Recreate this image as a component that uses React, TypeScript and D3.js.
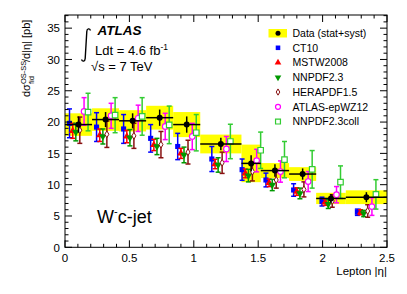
import React from "react";
import * as d3 from "d3";

// bin edges of lepton |eta| and measured W- c-jet cross sections
const binEdges = [0, 0.21, 0.42, 0.63, 0.84, 1.05, 1.37, 1.52, 1.74, 1.95, 2.18, 2.5];
const dataVal = [19.6, 20.4, 20.2, 20.7, 19.6, 16.5, 13.4, 12.25, 11.7, 7.8, 8.0];
const dataStat = [1.3, 1.2, 1.2, 1.3, 1.3, 1.0, 1.3, 1.0, 0.9, 0.7, 0.8];
const dataTot = [1.8, 1.8, 1.7, 1.9, 2.0, 1.5, 3.0, 1.2, 1.1, 0.9, 1.1];

// predictions
const ct10 = [19.8, 19.2, 18.9, 17.4, 16.1, 14.1, 12.4, 10.75, 9.15, 7.3, 5.6];
const ct10Err = [2.3, 2.3, 2.3, 2.2, 2.1, 2.0, 1.7, 1.1, 1.0, 0.7, 0.5];
const mstw = [18.6, 17.9, 17.7, 16.35, 15.0, 13.3, 11.8, 10.3, 8.9, 7.2, 5.6];
const mstwErr = [1.2, 1.0, 1.0, 0.9, 0.8, 0.75, 0.7, 0.6, 0.6, 0.5, 0.4];
const nnpdf = [18.4, 17.7, 17.5, 16.1, 14.75, 13.15, 11.45, 9.95, 8.6, 6.9, 5.4];
const nnpdfErr = [1.4, 1.2, 1.3, 1.3, 1.25, 1.15, 1.0, 0.9, 0.85, 0.7, 0.5];
const hera = [18.7, 18.05, 17.8, 16.4, 15.2, 13.5, 12.1, 10.75, 9.25, 7.4, 5.8];
const heraErr = [2.1, 2.1, 2.0, 2.1, 1.9, 1.7, 1.5, 1.3, 1.2, 1.0, 1.0];
const epwz = [21.7, 21.0, 20.6, 19.3, 17.7, 15.7, 13.85, 12.1, 10.5, 8.4, 6.5];
const epwzErr = [2.2, 2.0, 2.1, 2.1, 2.1, 2.0, 1.8, 1.7, 1.6, 1.3, 1.4];
const coll = [21.6, 21.1, 20.9, 19.55, 18.3, 16.9, 15.5, 14.0, 12.45, 10.4, 8.45];
const collErr = [3.0, 2.8, 3.0, 3.0, 2.9, 2.75, 2.9, 2.9, 3.0, 2.6, 2.35];

const xTicks = [0, 0.5, 1, 1.5, 2, 2.5];
const yTicks = [0, 5, 10, 15, 20, 25, 30, 35];

const font = "'Liberation Sans', Arial, Helvetica, sans-serif";

const W = 407, H = 294;
const m = { left: 65, right: 387, top: 15, bottom: 247.3 };

const x = d3.scaleLinear().domain([0, 2.5]).range([m.left, m.right]);
const y = d3.scaleLinear().domain([0, 37.1]).range([m.bottom, m.top]);

const series = [
  { name: "CT10", vals: ct10, errs: ct10Err, color: "#0000ff", shape: "square", dx: -0.07 },
  { name: "MSTW2008", vals: mstw, errs: mstwErr, color: "#ff0000", shape: "tri", dx: -0.045 },
  { name: "NNPDF2.3", vals: nnpdf, errs: nnpdfErr, color: "#009900", shape: "tridown", dx: -0.021 },
  { name: "HERAPDF1.5", vals: hera, errs: heraErr, color: "#881111", shape: "diamond", dx: 0.01 },
  { name: "ATLAS-epWZ12", vals: epwz, errs: epwzErr, color: "#ff00ff", shape: "circle", dx: 0.043 },
  { name: "NNPDF2.3coll", vals: coll, errs: collErr, color: "#33cc33", shape: "opensquare", dx: 0.074 },
];

function Marker({ shape, color, cx, cy, s = 1 }: any) {
  const t = `translate(${cx},${cy})`;
  if (shape === "square")
    return <path transform={t} d={d3.symbol(d3.symbolSquare, 26 * s)()!} fill={color} />;
  if (shape === "tri")
    return <path transform={t} d={d3.symbol(d3.symbolTriangle, 24 * s)()!} fill={color} />;
  if (shape === "tridown")
    return <path transform={t + " rotate(180)"} d={d3.symbol(d3.symbolTriangle, 24 * s)()!} fill={color} />;
  if (shape === "diamond")
    return <path transform={t} d={d3.symbol(d3.symbolDiamond, 14 * s)()!} fill="white" stroke={color} strokeWidth={1} />;
  if (shape === "circle")
    return <circle cx={cx} cy={cy} r={2.8 * Math.sqrt(s)} fill="white" stroke={color} strokeWidth={1.2} />;
  return <path transform={t} d={d3.symbol(d3.symbolSquare, 30 * s)()!} fill="white" stroke={color} strokeWidth={1.2} />;
}

export default function App() {
  const bins = d3.range(dataVal.length).map((i) => ({
    lo: binEdges[i],
    hi: binEdges[i + 1],
    c: (binEdges[i] + binEdges[i + 1]) / 2,
  }));

  const minorX = d3.range(0, 2.5001, 0.1);
  const minorY = d3.range(0, 37.01, 1);

  return (
    <svg width={W} height={H} style={{ position: "absolute", left: 0, top: 0 }} fontFamily={font}>
      <rect width={W} height={H} fill="white" />

      {/* data bands */}
      {bins.map((b, i) => (
        <rect key={"b" + i} x={x(b.lo)} width={x(b.hi) - x(b.lo)}
          y={y(dataVal[i] + dataTot[i])} height={y(dataVal[i] - dataTot[i]) - y(dataVal[i] + dataTot[i])}
          fill="#ffff00" />
      ))}

      {/* predictions */}
      {series.map((s) =>
        bins.map((b, i) => {
          const px = x(b.c + s.dx);
          const v = s.vals[i], e = s.errs[i];
          return (
            <g key={s.name + i}>
              <line x1={px} x2={px} y1={y(v - e)} y2={y(v + e)} stroke={s.color} strokeWidth={1.5} />
              <line x1={px - 2.5} x2={px + 2.5} y1={y(v - e)} y2={y(v - e)} stroke={s.color} strokeWidth={1.5} />
              <line x1={px - 2.5} x2={px + 2.5} y1={y(v + e)} y2={y(v + e)} stroke={s.color} strokeWidth={1.5} />
              <Marker shape={s.shape} color={s.color} cx={px} cy={y(v)} />
            </g>
          );
        })
      )}

      {/* data points */}
      {bins.map((b, i) => (
        <g key={"d" + i}>
          <line x1={x(b.lo)} x2={x(b.hi)} y1={y(dataVal[i])} y2={y(dataVal[i])} stroke="black" strokeWidth={1.5} />
          <line x1={x(b.c)} x2={x(b.c)} y1={y(dataVal[i] - dataStat[i])} y2={y(dataVal[i] + dataStat[i])} stroke="black" strokeWidth={1.5} />
          <circle cx={x(b.c)} cy={y(dataVal[i])} r={3} fill="black" />
        </g>
      ))}

      {/* frame and ticks */}
      <rect x={m.left} y={m.top} width={m.right - m.left} height={m.bottom - m.top} fill="none" stroke="black" strokeWidth={1} />
      {minorX.map((t, i) => {
        const major = i % 5 === 0;
        const l = major ? 7 : 3.5;
        return (
          <g key={"xt" + i}>
            <line x1={x(t)} x2={x(t)} y1={m.bottom} y2={m.bottom - l} stroke="black" />
            <line x1={x(t)} x2={x(t)} y1={m.top} y2={m.top + l} stroke="black" />
          </g>
        );
      })}
      {minorY.map((t, i) => {
        const major = i % 5 === 0;
        const l = major ? 7 : 3.5;
        return (
          <g key={"yt" + i}>
            <line x1={m.left} x2={m.left + l} y1={y(t)} y2={y(t)} stroke="black" />
            <line x1={m.right} x2={m.right - l} y1={y(t)} y2={y(t)} stroke="black" />
          </g>
        );
      })}
      {xTicks.map((t) => (
        <text key={"xl" + t} x={x(t)} y={262} fontSize={11.5} textAnchor="middle">{t}</text>
      ))}
      {yTicks.map((t) => (
        <text key={"yl" + t} x={60} y={y(t) + 4.2} fontSize={11.5} textAnchor="end">{t}</text>
      ))}

      {/* axis titles */}
      <text x={387} y={275} fontSize={11.5} textAnchor="end">Lepton |η|</text>
      <g transform="translate(30,97) rotate(-90)" fontSize={11}>
        <text x={0} y={0}>dσ</text>
        <text x={13} y={-4.5} fontSize={7.5}>OS-SS</text>
        <text x={13} y={3.5} fontSize={7.5}>fid</text>
        <text x={35} y={0}>/d|η| [pb]</text>
      </g>

      {/* labels */}
      <text x={97.5} y={35} fontSize={13.5} fontWeight="bold" fontStyle="italic">ATLAS</text>
      <path d="M90.5,30.5 C89.5,28 87,28.5 86.8,31.5 L85.2,58.5 C85,61.5 82.5,62 81.5,59.5" fill="none" stroke="black" strokeWidth={1.4} />
      <text x={95} y={55} fontSize={13}>Ldt = 4.6 fb<tspan fontSize={8.5} dy={-5.5}>-1</tspan></text>
      <text x={91} y={70.5} fontSize={13}>√s = 7 TeV</text>
      <text x={97} y={223} fontSize={18}>W<tspan fontSize={11} dy={-8}>-</tspan><tspan dy={8}>c-jet</tspan></text>

      {/* legend */}
      <rect x={268.5} y={29} width={18.5} height={8.5} fill="#ffff00" />
      <circle cx={278} cy={33.2} r={2.5} fill="black" />
      <text x={292.5} y={37} fontSize={10.5}>Data (stat+syst)</text>
      {series.map((s, i) => {
        const cy = 47.8 + i * 14.75;
        return (
          <g key={"lg" + s.name}>
            <Marker shape={s.shape} color={s.color} cx={278} cy={cy} s={0.8} />
            <text x={292.5} y={cy + 3.8} fontSize={10.5}>{s.name}</text>
          </g>
        );
      })}
    </svg>
  );
}
